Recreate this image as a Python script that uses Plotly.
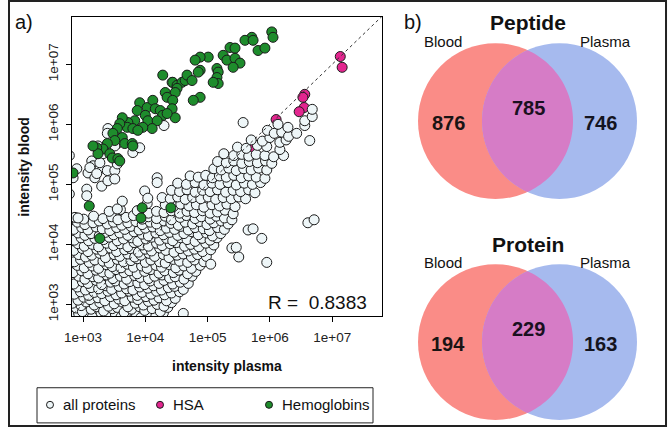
import numpy as np
import plotly.graph_objects as go

W, H = 668, 432
# measured mapping of the photographed page: screen_x = 8 + 0.988*x, screen_y = 0.984*y
SX, SY, SHIFT_X = 0.988, 0.984, 8.0


def px(x):
    return ((x - SHIFT_X) / SX) / W


def py(y):
    return 1 - (y / SY) / H


# ---------------- data (log10 intensities) ----------------
# dense cloud of all proteins: rows of (log10 plasma list, log10 blood list)
cloud_rows = [
    ([2.84,2.93,3.07,3.15,3.29,3.37,3.52,3.61,3.70,3.86,3.93,4.05,4.17,4.29],
     [2.80,2.85,2.83,2.79,2.86,2.81,2.84,2.79,2.87,2.82,2.78,2.85,2.81,2.86]),
    ([2.89,2.99,3.13,3.22,3.33,3.47,3.55,3.66,3.78,3.91,3.99,4.11,4.24,4.36],
     [2.94,2.88,2.92,2.96,2.89,2.93,2.95,2.87,2.92,2.96,2.90,2.93,2.88,2.95]),
    ([2.83,2.97,3.05,3.18,3.27,3.41,3.50,3.63,3.72,3.84,3.97,4.05,4.19,4.30,4.42],
     [3.02,2.98,3.04,2.99,3.03,2.97,3.01,3.04,2.96,3.02,2.99,3.05,3.00,2.97,3.03]),
    ([2.92,3.01,3.11,3.24,3.35,3.44,3.57,3.67,3.79,3.88,4.01,4.14,4.22,4.34,4.48],
     [3.07,3.12,3.08,3.11,3.06,3.13,3.09,3.06,3.12,3.08,3.13,3.07,3.11,3.06,3.10]),
    ([2.86,2.96,3.09,3.18,3.30,3.40,3.53,3.62,3.74,3.87,3.95,4.09,4.18,4.31,4.42,4.55],
     [3.17,3.21,3.15,3.20,3.18,3.22,3.16,3.19,3.22,3.15,3.20,3.17,3.22,3.16,3.19,3.21]),
    ([2.91,3.04,3.13,3.25,3.37,3.46,3.58,3.70,3.80,3.91,4.04,4.13,4.26,4.37,4.47,4.61],
     [3.29,3.24,3.28,3.26,3.31,3.25,3.30,3.26,3.24,3.29,3.27,3.31,3.24,3.28,3.30,3.25]),
    ([2.85,2.99,3.08,3.21,3.30,3.44,3.52,3.66,3.75,3.88,3.99,4.08,4.22,4.30,4.44,4.56,4.69],
     [3.34,3.38,3.35,3.40,3.33,3.37,3.39,3.34,3.38,3.36,3.33,3.39,3.35,3.40,3.34,3.37,3.35]),
    ([2.93,3.03,3.16,3.25,3.38,3.48,3.60,3.70,3.83,3.92,4.05,4.15,4.27,4.39,4.48,4.62,4.75],
     [3.47,3.42,3.46,3.44,3.49,3.43,3.47,3.42,3.48,3.45,3.43,3.47,3.49,3.44,3.46,3.42,3.47]),
    ([2.84,2.98,3.08,3.21,3.31,3.43,3.53,3.66,3.75,3.87,3.99,4.09,4.22,4.31,4.45,4.54,4.68,4.81],
     [3.53,3.56,3.51,3.57,3.54,3.52,3.58,3.53,3.56,3.51,3.55,3.58,3.52,3.56,3.53,3.57,3.51,3.55]),
    ([2.91,3.02,3.15,3.25,3.38,3.47,3.61,3.71,3.81,3.94,4.03,4.17,4.26,4.39,4.49,4.62,4.74,4.88],
     [3.65,3.61,3.64,3.60,3.66,3.63,3.61,3.67,3.62,3.64,3.60,3.65,3.62,3.66,3.61,3.64,3.60,3.65]),
    ([2.86,2.96,3.10,3.19,3.32,3.42,3.55,3.65,3.77,3.87,4.00,4.09,4.23,4.32,4.45,4.55,4.68,4.79,4.94],
     [3.71,3.75,3.70,3.74,3.72,3.69,3.75,3.71,3.73,3.76,3.70,3.74,3.71,3.69,3.75,3.72,3.70,3.74,3.71]),
    ([2.93,3.04,3.14,3.27,3.36,3.50,3.59,3.72,3.83,3.93,4.06,4.15,4.29,4.38,4.51,4.61,4.74,4.84,4.98],
     [3.83,3.79,3.82,3.85,3.78,3.83,3.80,3.84,3.79,3.82,3.85,3.80,3.83,3.78,3.82,3.84,3.79,3.83,3.80]),
    ([2.85,2.99,3.08,3.22,3.31,3.44,3.54,3.67,3.76,3.89,4.00,4.10,4.23,4.33,4.46,4.56,4.69,4.79,4.92,5.05],
     [3.90,3.93,3.88,3.92,3.89,3.94,3.88,3.91,3.93,3.87,3.92,3.89,3.94,3.90,3.87,3.93,3.89,3.92,3.88,3.91]),
    ([2.92,3.02,3.15,3.25,3.38,3.49,3.60,3.72,3.82,3.95,4.05,4.18,4.27,4.40,4.50,4.63,4.73,4.86,4.97,5.10],
     [4.01,3.97,4.00,3.96,4.02,3.98,4.01,3.96,4.03,3.99,3.97,4.02,3.98,4.01,4.03,3.97,4.00,3.96,4.02,3.99]),
    ([2.86,2.97,3.09,3.19,3.33,3.42,3.55,3.65,3.78,3.88,4.01,4.10,4.23,4.34,4.44,4.57,4.67,4.80,4.91,5.04,5.15],
     [4.07,4.11,4.06,4.10,4.08,4.12,4.06,4.09,4.11,4.05,4.09,4.12,4.07,4.10,4.06,4.11,4.08,4.05,4.10,4.07,4.11]),
    ([2.92,3.03,3.13,3.26,3.36,3.49,3.59,3.72,3.82,3.95,4.05,4.17,4.29,4.39,4.52,4.62,4.75,4.85,4.98,5.08,5.21],
     [4.19,4.15,4.18,4.14,4.20,4.16,4.19,4.15,4.21,4.17,4.14,4.19,4.16,4.20,4.15,4.18,4.21,4.16,4.19,4.14,4.18]),
    ([2.85,2.98,3.08,3.21,3.31,3.43,3.54,3.67,3.77,3.90,4.00,4.12,4.24,4.34,4.47,4.57,4.69,4.80,4.93,5.03,5.16,5.27],
     [4.25,4.28,4.24,4.29,4.26,4.23,4.28,4.25,4.30,4.24,4.27,4.29,4.23,4.27,4.25,4.30,4.24,4.28,4.26,4.23,4.28,4.25]),
    ([2.91,3.03,3.16,3.26,3.39,3.49,3.62,3.72,3.85,3.95,4.08,4.18,4.30,4.41,4.53,4.64,4.76,4.87,4.99,5.10,5.22,5.33],
     [4.37,4.33,4.36,4.39,4.34,4.37,4.32,4.36,4.38,4.33,4.37,4.34,4.39,4.35,4.32,4.37,4.34,4.38,4.33,4.36,4.39,4.34]),
    ([2.87,3.01,3.17,3.32,3.46,3.56,3.69,3.81,3.95,4.05,4.18,4.32,4.42,4.56,4.66,4.80,4.90,5.04,5.14,5.27,5.39],
     [4.45,4.42,4.47,4.43,4.46,4.41,4.45,4.48,4.42,4.46,4.43,4.47,4.41,4.45,4.48,4.43,4.46,4.42,4.47,4.44,4.41]),
    ([3.42,3.60,3.88,4.05,4.18,4.30,4.42,4.55,4.67,4.79,4.92,5.04,5.16,5.28,5.41],
     [4.55,4.58,4.56,4.52,4.55,4.53,4.56,4.52,4.55,4.53,4.56,4.52,4.54,4.57,4.51]),
    ([4.03,4.32,4.45,4.57,4.70,4.82,4.94,5.07,5.19,5.31,5.44],
     [4.68,4.66,4.63,4.67,4.64,4.66,4.62,4.66,4.64,4.67,4.63]),
    ([4.27,4.40,4.52,4.64,4.76,4.89,5.01,5.13,5.25,5.38,5.50,5.61],
     [4.78,4.76,4.79,4.75,4.78,4.76,4.79,4.75,4.78,4.76,4.79,4.76]),
    ([4.42,4.55,4.67,4.80,4.92,5.04,5.16,5.29,5.41,5.53,5.66,5.76],
     [4.90,4.88,4.91,4.87,4.90,4.88,4.91,4.87,4.90,4.88,4.91,4.86]),
    ([4.52,4.66,4.80,4.94,5.07,5.20,5.33,5.46,5.59,5.72,5.85],
     [5.02,5.00,5.03,4.99,5.02,5.00,5.03,4.99,5.02,5.00,5.03]),
    ([4.72,4.85,4.97,5.08,5.19,5.30,5.42,5.54,5.66,5.78,5.92],
     [5.14,5.12,5.15,5.11,5.14,5.12,5.15,5.11,5.14,5.12,5.10]),
    ([5.10,5.22,5.34,5.46,5.58,5.70,5.82,5.95],
     [5.26,5.24,5.27,5.23,5.26,5.24,5.27,5.24]),
    ([5.16,5.30,5.42,5.55,5.67,5.80,5.93,6.03],
     [5.38,5.36,5.39,5.35,5.38,5.36,5.39,5.35]),
    ([5.26,5.42,5.55,5.66,5.78,5.92,6.06,6.22],
     [5.51,5.48,5.50,5.47,5.50,5.48,5.46,5.48]),
    ([5.48,5.62,5.80,5.95,6.16],
     [5.62,5.60,5.65,5.63,5.58]),
    ([5.70,5.88,6.00,6.16,6.26,6.64],
     [5.74,5.72,5.78,5.70,5.74,5.73]),
    ([5.96,6.07,6.19,6.30,6.43,6.29],
     [5.90,5.85,5.87,5.80,5.85,5.95]),
    ([5.57,6.13,6.56,6.56,6.68,6.68],
     [6.03,6.00,5.98,6.06,6.13,6.25]),
]

# proteins above the diagonal (near the hemoglobin band)
upper_white = [
    (4.43,6.70),(4.30,5.98),(3.40,5.93),(3.39,5.85),(3.55,5.68),(3.39,5.64),(3.80,5.53),
    (3.91,5.61),(3.14,5.39),(3.16,5.31),(3.08,5.19),(3.27,5.26),(3.39,5.23),(3.51,5.23),
    (3.55,5.34),(3.19,5.11),(3.30,4.97),(2.90,5.26),(2.84,5.11),(3.06,4.92),(3.40,5.06),
    (3.51,5.09),(3.24,5.64),(3.51,5.64),(3.32,5.51),(3.27,5.36),(3.11,5.28),(3.22,5.18),
    (3.06,4.81),(4.19,5.11),(4.19,5.03),(3.63,4.72),(3.99,4.89),(4.04,4.77),(3.55,4.59),
    (3.87,4.56),(2.92,4.44),(2.78,5.48),(2.78,5.19),(2.78,4.84),
]

# isolated proteins below the cloud
outlier_white = [
    (6.61,4.36),(6.71,4.41),(5.65,4.24),(5.73,4.26),(5.87,4.10),(5.39,3.94),(5.46,3.95),
    (5.50,3.79),(5.95,3.70),(5.05,3.67),(4.61,2.85),
]

hsa = [
    (7.13,7.13),(7.16,6.95),(6.56,6.50),(6.53,6.45),(6.55,6.28),(6.47,6.21),(6.10,6.08),
    (4.81,4.67),(5.31,5.31),(5.12,5.03),(5.68,5.61),
]

hemoglobins = [
    (6.03,7.54),(6.05,7.45),(5.71,7.45),(5.60,7.40),(5.73,7.40),(5.81,7.23),(5.92,7.27),
    (5.36,7.28),(5.44,7.27),(5.25,7.15),(5.31,7.07),(5.44,7.10),(5.52,7.02),(5.41,6.95),
    (5.01,7.12),(4.88,7.12),(4.80,7.07),(4.88,6.90),(4.85,6.87),(5.15,6.93),(5.17,6.87),
    (5.15,6.78),(5.17,6.68),(5.09,6.70),(4.28,6.82),(4.44,6.70),(4.51,6.65),(4.59,6.70),
    (4.64,6.73),(4.67,6.82),(4.75,6.73),(4.51,6.60),(4.48,6.53),(4.32,6.53),(4.35,6.45),
    (4.44,6.40),(4.88,6.45),(4.77,6.40),(3.91,6.36),(3.87,6.23),(4.03,6.28),(4.12,6.40),
    (4.16,6.26),(4.24,6.23),(4.28,6.15),(4.43,6.26),(4.48,6.11),(4.35,6.18),(4.00,6.15),
    (4.04,6.06),(4.19,6.06),(4.11,5.93),(3.96,5.95),(3.83,6.06),(3.72,6.03),(3.71,5.95),
    (3.80,5.93),(3.88,5.90),(3.63,6.11),(3.59,6.01),(3.55,5.93),(3.63,5.78),(3.67,5.68),
    (3.79,5.68),(3.80,5.64),(3.48,5.85),(3.51,5.73),(3.39,5.68),(3.32,5.59),(3.22,5.61),
    (3.24,5.51),(3.43,5.51),(3.47,5.44),(3.56,5.43),(3.59,5.39),(2.84,5.19),(3.16,5.64),
    (3.10,4.64),(3.95,4.61),(3.93,4.44),(4.41,4.61),(3.27,4.10),
]

x_ticks = [1e3, 1e4, 1e5, 1e6, 1e7]
x_tick_labels = ["1e+03", "1e+04", "1e+05", "1e+06", "1e+07"]
y_ticks = [1e3, 1e4, 1e5, 1e6, 1e7]
y_tick_labels = ["1e+03", "1e+04", "1e+05", "1e+06", "1e+07"]
r_value = 0.8383

venn_sets = ["Blood", "Plasma"]
peptide_counts = [876, 785, 746]
protein_counts = [194, 229, 163]

# ---------------- build ----------------
white_pts = [(a, b) for xs, ys in cloud_rows for a, b in zip(xs, ys)] + upper_white + outlier_white
wx = [10 ** a for a, b in white_pts]
wy = [10 ** b for a, b in white_pts]
hx = [10 ** a for a, b in hsa]
hy = [10 ** b for a, b in hsa]
gx = [10 ** a for a, b in hemoglobins]
gy = [10 ** b for a, b in hemoglobins]

FONT = "Liberation Sans, Arial, sans-serif"
WHITE_FILL = "#EEF6F8"
PINK = "#E3268F"
GREEN = "#1E8C2C"
OUTLINE = "#1a1a1a"
MS = 10

fig = go.Figure()
fig.add_trace(go.Scatter(x=hx, y=hy, mode="markers",
                         marker=dict(size=MS, color=PINK, line=dict(color=OUTLINE, width=1))))
fig.add_trace(go.Scatter(x=wx, y=wy, mode="markers",
                         marker=dict(size=MS, color=WHITE_FILL, line=dict(color=OUTLINE, width=1))))
fig.add_trace(go.Scatter(x=[10 ** 2.5, 10 ** 8.2], y=[10 ** 2.5, 10 ** 8.2], mode="lines",
                         line=dict(color="#333", width=1, dash="dot")))
fig.add_trace(go.Scatter(x=gx, y=gy, mode="markers",
                         marker=dict(size=MS, color=GREEN, line=dict(color=OUTLINE, width=1))))

axis_common = dict(type="log", ticks="outside", ticklen=5, tickwidth=1, tickcolor="black",
                   showline=True, linecolor="black", linewidth=1, mirror=True,
                   showgrid=False, zeroline=False,
                   tickfont=dict(family=FONT, size=13.5, color="#222"))

fig.update_layout(
    width=W, height=H,
    margin=dict(l=0, r=0, t=0, b=0),
    paper_bgcolor="white", plot_bgcolor="white",
    showlegend=False,
    xaxis=dict(range=[2.823, 7.80], domain=[px(72), px(382)], tickvals=x_ticks,
               ticktext=x_tick_labels, anchor="y", ticklabelstandoff=3, **axis_common),
    yaxis=dict(range=[2.80, 7.787], domain=[py(315), py(17)], tickvals=y_ticks,
               ticktext=y_tick_labels, tickangle=-90, anchor="x", ticklabelstandoff=3,
               **axis_common),
)

shapes = []
annotations = []


def ann(text, x, y, size, bold=False, xanchor="center", yanchor="middle", angle=0, color="#111"):
    annotations.append(dict(text=("<b>%s</b>" % text) if bold else text, x=px(x), y=py(y),
                            xref="paper", yref="paper", showarrow=False, xanchor=xanchor,
                            yanchor=yanchor, textangle=angle,
                            font=dict(family=FONT, size=size, color=color)))


# panel labels and axis titles
ann("a)", 13, 22, 20, xanchor="left")
ann("intensity plasma", 227, 364, 14, bold=True)
ann("intensity blood", 24, 166, 14, bold=True, angle=-90)
ann("R =\u00a0 %.4f" % r_value, 369, 301, 19, xanchor="right")

# legend box
shapes.append(dict(type="rect", xref="paper", yref="paper", x0=px(37), x1=px(373),
                   y0=py(421), y1=py(386), line=dict(color="#222", width=1)))
legend_items = [("all proteins", WHITE_FILL, 50), ("HSA", PINK, 160), ("Hemoglobins", GREEN, 269)]
for label, col, cx in legend_items:
    shapes.append(dict(type="circle", xref="paper", yref="paper", x0=px(cx - 3.5), x1=px(cx + 3.5),
                       y0=py(403 + 3.5), y1=py(403 - 3.5), fillcolor=col,
                       line=dict(color=OUTLINE, width=1)))
    ann(label, cx + 11, 403, 15, xanchor="left")

# Venn diagrams
RED, BLUE, MIX = "#FA8C87", "#A6BAEE", "#D67CC6"


def venn(cy, title, title_y, label_y, counts):
    r = 77.5
    c1, c2 = 495.5, 559.5
    shapes.append(dict(type="circle", xref="paper", yref="paper", x0=px(c1 - r), x1=px(c1 + r),
                       y0=py(cy + r), y1=py(cy - r), fillcolor=RED, line=dict(width=0), layer="below"))
    shapes.append(dict(type="circle", xref="paper", yref="paper", x0=px(c2 - r), x1=px(c2 + r),
                       y0=py(cy + r), y1=py(cy - r), fillcolor=BLUE, line=dict(width=0), layer="below"))
    d = c2 - c1
    th = np.arccos((d / 2) / r)
    a1 = np.linspace(-th, th, 60)
    a2 = np.linspace(np.pi - th, np.pi + th, 60)
    pts = [(c1 + r * np.cos(a), cy + r * np.sin(a)) for a in a1]
    pts += [(c2 + r * np.cos(a), cy - r * np.sin(a)) for a in a2]
    path = "M " + " L ".join("%.5f,%.5f" % (px(x), py(y)) for x, y in pts) + " Z"
    shapes.append(dict(type="path", xref="paper", yref="paper", path=path, fillcolor=MIX,
                       line=dict(width=0), layer="below"))
    ann(title, 528, title_y, 21, bold=True)
    ann(venn_sets[0], 443, label_y, 15)
    ann(venn_sets[1], 605, label_y, 15)
    ann(str(counts[0]), 448, cy + 2, 20, bold=True, color="#1a1414")
    ann(str(counts[1]), 528, cy - 13, 20, bold=True, color="#1a1020")
    ann(str(counts[2]), 600, cy + 2, 20, bold=True, color="#141420")


ann("b)", 402, 22, 20, xanchor="left")
venn(120.5, "Peptide", 22, 41, peptide_counts)
venn(340.5, "Protein", 243, 261, protein_counts)

# outer frame
shapes.append(dict(type="rect", xref="paper", yref="paper", x0=px(9), x1=px(666),
                   y0=py(424), y1=py(1), line=dict(color="#222", width=2)))

fig.update_layout(shapes=shapes, annotations=annotations)
post = ("document.documentElement.style.margin='0';document.documentElement.style.padding='0';"
        "document.body.style.margin='0';document.body.style.padding='0';"
        "document.documentElement.style.overflow='hidden';document.body.style.overflow='hidden';"
        "var g=document.getElementById('{plot_id}');g.style.position='fixed';"
        "g.style.left='0px';g.style.top='0px';")
fig.write_html("out.html", config={"displayModeBar": False}, post_script=post)
